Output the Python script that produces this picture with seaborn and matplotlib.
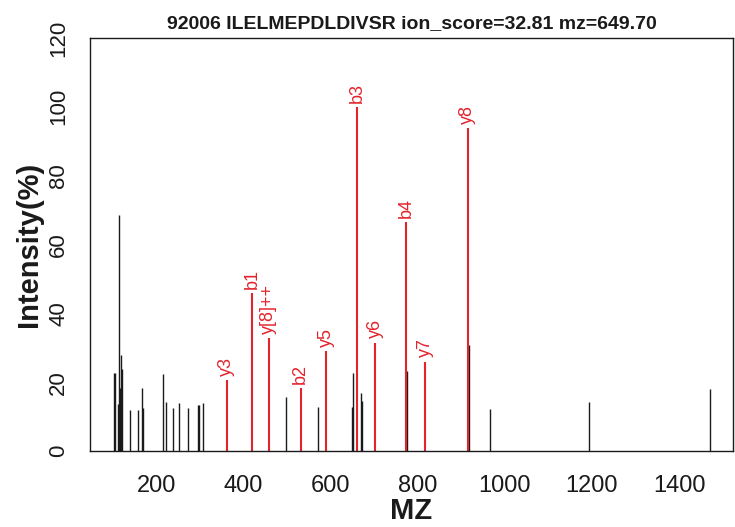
import numpy as np
import matplotlib
matplotlib.use("Agg")
import matplotlib.pyplot as plt
import pandas as pd
import seaborn as sns

#-------------------------------------Dados---------------------------------------------
# picos nao anotados (pretos)
other_mz = [102.8, 105.1, 112.1, 113.6, 115.9, 118.9, 121.2, 138.9, 156.6, 166.5,
            169.4, 214.0, 221.6, 237.7, 250.8, 271.4, 295.8, 298.1, 306.6, 496.6,
            571.5, 648.2, 650.5, 668.9, 671.2, 775.9, 917.0, 966.0, 1192.6, 1471.0]
other_int = [22.6, 22.6, 13.7, 68.5, 18.2, 27.9, 23.8, 11.8, 11.8, 18.3,
             12.4, 22.3, 14.2, 12.4, 13.9, 12.4, 13.3, 13.3, 13.9, 15.8,
             12.9, 12.9, 22.6, 16.8, 14.6, 23.3, 30.8, 12.1, 14.1, 18.0]

# picos anotados (vermelhos)
ion_labels = ["y3", "b1", "y[8]++", "b2", "y5", "b3", "y6", "b4", "y7", "y8"]
ion_mz = [361.2, 419.0, 457.7, 531.0, 589.3, 660.0, 702.4, 774.0, 817.4, 914.5]
ion_int = [20.6, 45.8, 32.8, 18.2, 29.0, 100.0, 31.5, 66.5, 26.0, 93.8]

x_ticks = [200, 400, 600, 800, 1000, 1200, 1400]
y_ticks = [0, 20, 40, 60, 80, 100, 120]

title = "92006 ILELMEPDLDIVSR ion_score=32.81 mz=649.70"

RED = "#E3242B"
BLACK = "#1a1a1a"

sns.set_style("white")
plt.rcParams['font.family'] = ['Liberation Sans', 'DejaVu Sans']

df_other = pd.DataFrame({'mz': other_mz, 'intensity': other_int})
df_ions = pd.DataFrame({'mz': ion_mz, 'intensity': ion_int, 'label': ion_labels})

fig = plt.figure(figsize=(7.35, 5.27), dpi=100)
ax = fig.add_axes([90 / 735, 76 / 527, 643 / 735, 413 / 527])

ax.vlines(df_other['mz'], 0, df_other['intensity'], color=BLACK, lw=1.0)
ax.vlines(df_ions['mz'], 0, df_ions['intensity'], color=RED, lw=1.5)
for _, row in df_ions.iterrows():
    ax.annotate(row['label'], (row['mz'], row['intensity']), xytext=(0, 3),
                textcoords='offset points', rotation=90, ha='center', va='bottom',
                color=RED, fontsize=13)

ax.set_xlim(47, 1524)
ax.set_ylim(0, 120)
ax.set_xticks(x_ticks)
ax.set_yticks(y_ticks)
ax.set_yticklabels([str(v) for v in y_ticks], rotation=90, va='center')
ax.tick_params(axis='both', direction='out', length=11, width=1.0, color=BLACK,
               labelcolor=BLACK)
ax.tick_params(axis='x', pad=6, labelsize=17)
ax.tick_params(axis='y', pad=4, labelsize=16)
for s in ax.spines.values():
    s.set_color(BLACK)
    s.set_linewidth(1.0)

ax.set_title(title, fontsize=14, fontweight='bold', pad=7, color=BLACK)
ax.set_xlabel('MZ', fontsize=21, fontweight='bold', color=BLACK)
ax.set_ylabel('Intensity(%)', fontsize=21, fontweight='bold', color=BLACK)
ax.xaxis.set_label_coords(0.5, -0.112)
ax.yaxis.set_label_coords(-0.095, 0.5)
ax.yaxis.label.set_va('center')

plt.savefig('out.png', dpi=100)
